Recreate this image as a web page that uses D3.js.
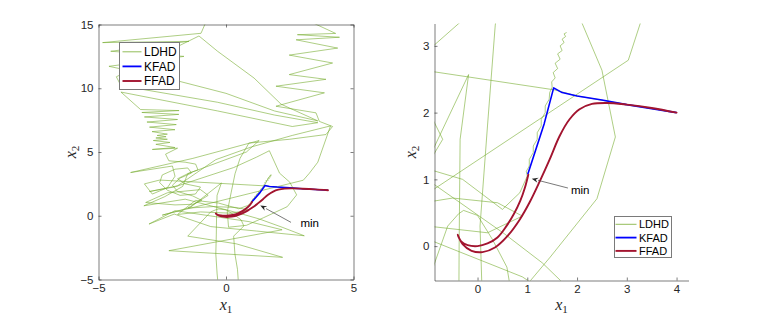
<!DOCTYPE html>
<html><head><meta charset="utf-8">
<script src="https://cdn.jsdelivr.net/npm/d3@7/dist/d3.min.js"></script>
<style>body{margin:0;background:#fff}svg{display:block}</style>
</head><body>
<svg id="chart" width="761" height="317"></svg>
<script>
// ---------- data ----------
const seriesNames = ["LDHD", "KFAD", "FFAD"];
const xTicksLeft = [-5, 0, 5];
const yTicksLeft = [-5, 0, 5, 10, 15];
const xTicksRight = [0, 1, 2, 3, 4];
const yTicksRight = [0, 1, 2, 3];

// LDHD trajectory [x1, x2]
const ldhd = [
  [4.0,2.0],[3.0,2.12],[2.0,2.25],[1.55,2.34],[-0.86,2.61],[-2.6,2.8],
  [-3.2,2.5],[-2.89,1.7],[-2.3,2.2],[-2.0,3.1],[-2.1,3.9],[-3.74,3.39],[-1.3,4.5],[1.3,5.9],
  [0.8,5.0],[-1.5,3.3],[-1.7,2.3],[-2.4,1.5],[-3.22,0.78],[-1.6,1.3],
  [-0.845,0.91],[0.53,0.19],[1.3,-0.25],[2.2,-0.9],[3.07,-1.57],[1.2,-1.2],[-0.6,-0.85],
  [-2.03,0.13],[-3.02,-0.65],[-2.0,0.4],[0.9,-0.46],[2.2,-1.1],
  [-2.24,-2.74],[2.22,-3.26],[0.4,-2.2],[-1.5,-1.6],[-0.6,0.3],[-0.38,0.485],[-0.28,0.535],
  [0.0,0.46],[0.3,0.1],[0.59,-0.315],[0.7,-0.8],[0.3,-1.6],[0.35,-3.0],[0.45,-4.2],[0.5,-5.6],
  [-0.3,-5.6],[-0.35,-4.5],[-0.4,-3.0],[-0.38,-1.5],[-0.37,0.0],[-0.35,1.6],[-0.18,2.57],
  [-1.4,0.65],[-2.5,0.05],
  [3.03,2.785],[3.27,3.335],[3.6,4.2],[4.1,7.05],[2.6,6.3],[1.0,5.4],[-0.4,4.4],[-1.9,2.35],
  [-3.0,1.9],[-2.0,2.27],[0.3,3.78],[1.2,4.6],[1.7,5.1],
  [2.1,3.34],[2.5,2.635],[2.77,1.635],[2.4,0.71],[1.46,-0.165],[0.8,-0.75],[0.1,-0.9],
  [0.05,0.3],[0.2,1.8],[0.355,3.3],[0.55,4.5],[0.9,5.7],[2.5,6.0],
  [3.92,6.37],[4.18,7.0],[3.66,7.4],[3.53,8.07],[1.96,8.59],[3.86,9.64],[1.96,10.16],[3.92,10.7],
  [2.48,11.07],[4.18,11.98],[2.48,12.6],[4.38,13.15],[2.75,13.8],[4.45,14.0],[2.8,14.2],[4.3,14.3],
  [2.9,15.6],[-0.7,15.6],
  [-0.98,14.31],[-4.84,13.58],[-1.45,13.68],[-4.52,12.9],[-1.65,12.5],[-4.59,11.72],
  [-1.84,10.55],[0.0,9.6],[1.9,8.22],[3.6,7.44],[2.16,8.75],[1.1,10.8],[-0.33,12.9],[-1.06,14.1],
  [-4.3,10.9],[-4.12,10.2],[-0.33,8.9],[1.9,7.9],[3.6,7.3],[2.6,7.0],[-0.33,8.22],[-4.12,9.7],
  [-3.35,8.33],[-1.84,8.25],[-3.3,8.1],[-1.85,7.95],[-3.2,7.75],[-1.9,7.55],[-3.1,7.35],[-1.95,7.15],
  [-3.0,6.95],[-2.0,6.75],[-2.9,6.6],[-2.3,6.4],[-2.7,6.3],[-2.35,6.2],[-2.75,6.1],[-2.3,6.0],
  [-2.85,5.9],[-2.2,5.75],[-2.75,5.6],[-2.0,5.35],[-2.89,5.2],[-1.9,5.3],
  [-2.37,4.83],[-2.24,4.31],[-1.6,4.2],[-1.19,4.05],[-1.1,3.6],[-1.5,3.3],[-1.9,2.9],[-1.6,2.5],
  [-1.0,2.25],[-1.2,1.7],[-1.8,1.6],[-2.3,2.0],[-2.6,2.6],[-2.5,3.2],[-2.0,3.65],[-1.5,3.75],
  [-1.35,3.35],[-1.8,2.95],[-2.1,2.4],[-1.9,1.9],[-1.3,1.55],[-0.95,1.2],[-1.3,0.9],[-2.0,0.85],
  [-3.15,1.04],[-2.3,1.8],[-1.0,2.05],[-0.7,1.6],[-1.5,0.6],[-0.5,0.72],[0.4,0.65],[0.9,0.45],
  [0.2,0.2],[-1.0,0.3],[-1.9,0.1],[-1.2,1.2],
  [-0.3,1.0],[0.5,0.55],[0.85,0.8],[1.0,1.05],
  [0.98,1.12],[1.04,1.2],[1.04,1.3],[1.12,1.4],[1.12,1.5],[1.2,1.6],[1.2,1.7],[1.28,1.8],
  [1.28,1.9],[1.36,2.0],[1.36,2.1],[1.44,2.2],[1.45,2.3],[1.5,2.38],[1.49,2.46],[1.56,2.52],
  [1.52,2.6],[1.61,2.66],[1.56,2.74],[1.66,2.8],[1.61,2.88],[1.7,2.93],[1.66,3.0],[1.74,3.05],
  [1.7,3.1],[1.77,3.14],[1.74,3.18],[1.79,3.2]
];
// KFAD trajectory
const kfad = [
  [4.0,2.0],[3.0,2.12],[2.5,2.19],[2.0,2.25],[1.7,2.3],[1.53,2.37],[1.34,1.835],[1.01,1.075]
];
// FFAD trajectory
const ffad = [
  [4.0,2.0],[3.5,2.07],[3.0,2.12],[2.6,2.145],[2.3,2.13],[2.05,2.05],[1.85,1.9],[1.65,1.65],
  [1.45,1.3],[1.25,0.97],[1.05,0.66],[0.85,0.4],[0.6,0.15],[0.35,-0.02],[0.1,-0.09],
  [-0.12,-0.07],[-0.3,0.03],[-0.4,0.17],
  [-0.33,0.07],[-0.2,0.015],[0.0,0.0],[0.2,0.04],[0.4,0.13],[0.58,0.3],[0.73,0.48],
  [0.86,0.68],[0.95,0.87],[1.02,1.07]
];
const minLabel = "min";

// ---------- layout ----------
const colors = {LDHD: "#77AC30", KFAD: "#0000FF", FFAD: "#A2142F"};
const svg = d3.select("#chart");
const panels = [
  {left: 98.5, right: 353.5, top: 24.5, bottom: 279.5, xd: [-5, 5], yd: [-5, 15],
   xt: xTicksLeft, yt: yTicksLeft, box: true,
   legend: {x: 119.5, y: 42.5, w: 60, h: 47, fs: 12, row: 14.6, first: 9.3, lx0: 3, lx1: 22, tx: 24.5},
   arrow: {head: [1.345, 0.81], tail: [2.55, -0.52], text: [2.92, -0.86]},
   ylabX: 75.5},
  {left: 434.5, right: 688.5, top: 23.5, bottom: 280.5, xd: [-0.865, 4.24], yd: [-0.515, 3.335],
   xt: xTicksRight, yt: yTicksRight, box: false,
   legend: {x: 614.5, y: 216.5, w: 57, h: 41, fs: 11, row: 13.3, first: 7.8, lx0: 1, lx1: 22, tx: 24.5},
   arrow: {head: [1.09, 1.01], tail: [1.817, 0.87], text: [1.877, 0.786]},
   ylabX: 416}
];

const axisColor = "#262626";

panels.forEach((p, i) => {
  const x = d3.scaleLinear().domain(p.xd).range([p.left, p.right]);
  const y = d3.scaleLinear().domain(p.yd).range([p.bottom, p.top]);
  const g = svg.append("g");
  const clipId = "clip" + i;
  svg.append("defs").append("clipPath").attr("id", clipId)
    .append("rect").attr("x", p.left).attr("y", p.top)
    .attr("width", p.right - p.left).attr("height", p.bottom - p.top);

  const line = d3.line().x(d => x(d[0])).y(d => y(d[1]));
  const smooth = d3.line().x(d => x(d[0])).y(d => y(d[1])).curve(d3.curveCatmullRom.alpha(0.5));
  const plot = g.append("g").attr("clip-path", `url(#${clipId})`);
  plot.append("path").attr("d", line(ldhd)).attr("fill", "none")
    .attr("stroke", colors.LDHD).attr("stroke-width", 0.7).attr("stroke-opacity", 0.85)
    .attr("stroke-linejoin", "round");
  plot.append("path").attr("d", line(kfad)).attr("fill", "none")
    .attr("stroke", colors.KFAD).attr("stroke-width", 1.6).attr("stroke-linejoin", "round");
  plot.append("path").attr("d", smooth(ffad)).attr("fill", "none")
    .attr("stroke", colors.FFAD).attr("stroke-width", 1.9).attr("stroke-linejoin", "round")
    .attr("stroke-linecap", "round");

  // axes
  const styleAxis = sel => {
    sel.select(".domain").attr("stroke", axisColor).attr("stroke-width", 0.6);
    sel.selectAll(".tick line").attr("stroke", axisColor).attr("stroke-width", 0.6);
    sel.selectAll(".tick text").attr("fill", "#262626")
      .style("font-family", "'Liberation Sans', Arial, Helvetica, sans-serif").style("font-size", "11.5px");
  };
  g.append("g").attr("transform", `translate(0,${p.bottom})`)
    .call(d3.axisBottom(x).tickValues(p.xt).tickSizeInner(-3).tickSizeOuter(0).tickPadding(4.5).tickFormat(d3.format("d")))
    .call(styleAxis);
  g.append("g").attr("transform", `translate(${p.left},0)`)
    .call(d3.axisLeft(y).tickValues(p.yt).tickSizeInner(-3).tickSizeOuter(0).tickPadding(5).tickFormat(d3.format("d")))
    .call(styleAxis);
  if (p.box) {
    g.append("g").attr("transform", `translate(0,${p.top})`)
      .call(d3.axisTop(x).tickValues(p.xt).tickSizeInner(-3).tickSizeOuter(0).tickFormat(""))
      .call(styleAxis);
    g.append("g").attr("transform", `translate(${p.right},0)`)
      .call(d3.axisRight(y).tickValues(p.yt).tickSizeInner(-3).tickSizeOuter(0).tickFormat(""))
      .call(styleAxis);
  }
  g.selectAll(".domain").attr("fill", "none");

  // axis labels
  const cx = (p.left + p.right) / 2, cy = (p.top + p.bottom) / 2;
  const xl = g.append("text").attr("x", cx).attr("y", 310).attr("text-anchor", "middle")
    .style("font-family", "'Liberation Serif', 'DejaVu Serif', serif").attr("fill", "#262626");
  xl.append("tspan").text("x").style("font-style", "italic").style("font-size", "16px");
  xl.append("tspan").text("1").attr("dy", 3).style("font-size", "11px");
  const yl = g.append("text").attr("transform", `translate(${p.ylabX},${cy}) rotate(-90)`)
    .attr("text-anchor", "middle")
    .style("font-family", "'Liberation Serif', 'DejaVu Serif', serif").attr("fill", "#262626");
  yl.append("tspan").text("x").style("font-style", "italic").style("font-size", "16px");
  yl.append("tspan").text("2").attr("dy", 3).style("font-size", "11px");

  // legend
  const L = p.legend;
  const lg = g.append("g").attr("transform", `translate(${L.x},${L.y})`);
  lg.append("rect").attr("width", L.w).attr("height", L.h).attr("fill", "#fff")
    .attr("stroke", "#7a7a7a").attr("stroke-width", 1);
  seriesNames.forEach((n, k) => {
    const yy = L.first + k * L.row;
    lg.append("line").attr("x1", L.lx0).attr("x2", L.lx1).attr("y1", yy).attr("y2", yy)
      .attr("stroke", colors[n]).attr("stroke-width", n === "LDHD" ? 0.8 : (n === "KFAD" ? 1.8 : 1.9));
    lg.append("text").attr("x", L.tx).attr("y", yy).attr("dy", "0.36em").text(n)
      .style("font-family", "'Liberation Sans', Arial, Helvetica, sans-serif")
      .style("font-size", L.fs + "px").attr("fill", "#000");
  });

  // annotation arrow
  const A = p.arrow;
  const hx = x(A.head[0]), hy = y(A.head[1]), tx = x(A.tail[0]), ty = y(A.tail[1]);
  const ang = Math.atan2(hy - ty, hx - tx);
  const len = 6.5, wid = 2.6;
  const bx = hx - len * Math.cos(ang), by = hy - len * Math.sin(ang);
  g.append("line").attr("x1", tx).attr("y1", ty).attr("x2", bx).attr("y2", by)
    .attr("stroke", "#404040").attr("stroke-width", 0.7);
  g.append("path").attr("d", `M${hx},${hy}L${bx - wid * Math.sin(ang)},${by + wid * Math.cos(ang)}L${bx + 0.35*len*Math.cos(ang)},${by + 0.35*len*Math.sin(ang)}L${bx + wid * Math.sin(ang)},${by - wid * Math.cos(ang)}Z`)
    .attr("fill", "#262626");
  g.append("text").attr("x", x(A.text[0])).attr("y", y(A.text[1])).text(minLabel)
    .style("font-family", "'Liberation Sans', Arial, Helvetica, sans-serif")
    .style("font-size", "11.5px").attr("fill", "#000");
});
</script>
</body></html>
